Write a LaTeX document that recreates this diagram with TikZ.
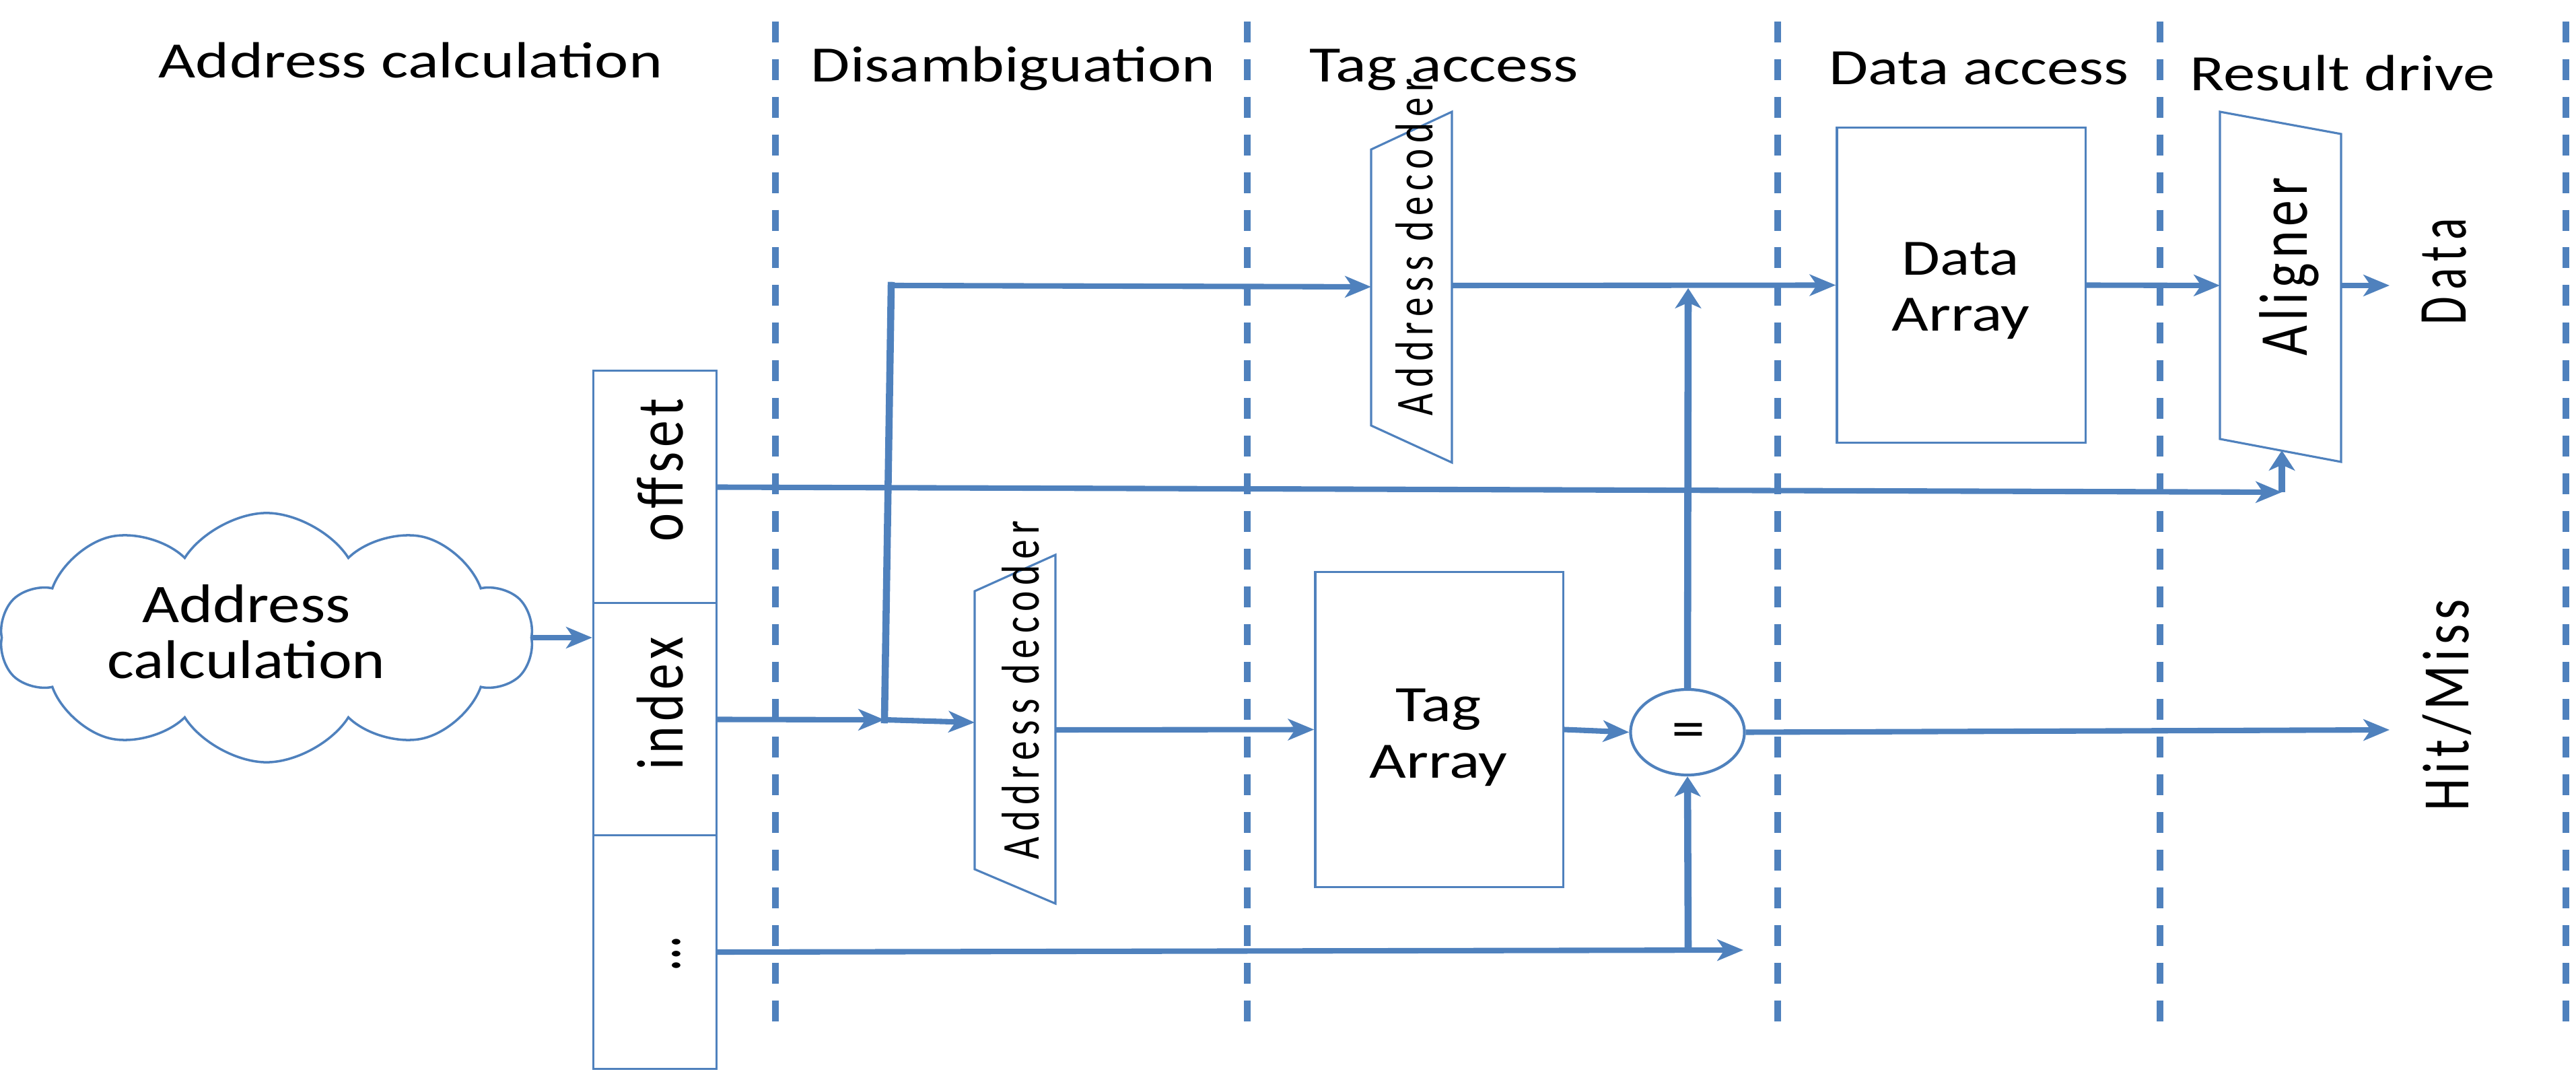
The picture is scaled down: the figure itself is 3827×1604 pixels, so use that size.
\documentclass[tikz,border=0pt]{standalone}
\usepackage{fontspec}
\setmainfont{Carlito}
\newfontfamily\lsfont[LetterSpace=15]{Carlito}
\newfontfamily\lsfontb[LetterSpace=9]{Carlito}
\usepackage{graphicx}
\usetikzlibrary{arrows.meta,shapes.symbols,shapes.geometric}
\definecolor{ob}{HTML}{4F81BD}
\newcommand\fitx[3]{\resizebox{#1cm}{\height}{\fontsize{#2}{#2}\selectfont #3}}
\newcommand\fitl[3]{\resizebox{#1cm}{\height}{\fontsize{#2}{#2}\lsfont #3}}
\newcommand\fitm[3]{\resizebox{#1cm}{\height}{\fontsize{#2}{#2}\lsfontb #3}}
\tikzset{
  conn/.style={draw=ob, line width=2.3pt, -{Stealth[length=11pt,width=9pt,inset=3pt]}},
  connv/.style={draw=ob, line width=3pt, -{Stealth[length=8.5pt,width=11pt,inset=2.4pt]}},
  wirev/.style={draw=ob, line width=3pt, line cap=rect},
  sepline/.style={draw=ob, line width=2.6pt, dash pattern=on 8.8pt off 7.1pt},
  blk/.style={draw=ob, line width=0.9pt, fill=white, inner sep=0},
  lbl/.style={inner sep=0, anchor=base, text=black},
  rlbl/.style={inner sep=0, anchor=base, text=black, rotate=90},
}
\begin{document}
\begin{tikzpicture}[x=0.01cm, y=-0.01cm]
\useasboundingbox (0,0) rectangle (3827,1604);

% stage separators
\foreach \xx in {1152,1853,2641,3209,3812}
  \draw[sepline] (\xx,32) -- (\xx,1533);

% stage titles
\node[lbl] (t1) at (610,116) {\fitx{7.48}{21.5}{Address calculation}};
\node[lbl] (t2) at (1505,122) {\fitx{6.00}{21.5}{Disambiguation}};
\node[lbl] (t3) at (2145,122) {\fitx{3.99}{21.5}{Tag access}};
\node[lbl] (t4) at (2940,126) {\fitx{4.45}{21.5}{Data access}};
\node[lbl] (t5) at (3480,135) {\fitx{4.52}{21.5}{Result drive}};

% coordinates for connector ends
\coordinate (jn) at (1314,1069);
\coordinate (jt) at (1324,424);
\coordinate (dtin) at (2037,426);
\coordinate (dtout) at (2157,424);
\coordinate (dlin) at (1448,1073);
\coordinate (dlout) at (1568,1084);
\coordinate (alin) at (3298,424);
\coordinate (alout) at (3478,424);
\coordinate (albot) at (3390,669);
\coordinate (dout) at (3550,424);
\coordinate (hm) at (3550,1084);
\coordinate (db) at (2590,1411);
\coordinate (dj) at (2508,1412);
\coordinate (oc) at (3390,731);
\coordinate (up) at (2508,428);

% boxes
\node[cloud, draw=ob, line width=1pt, fill=white, cloud puffs=10, cloud puff arc=115, aspect=2.2,
      minimum width=7.9cm, minimum height=3.7cm, inner sep=0] (cloud) at (396,947) {};
\node[blk, minimum width=1.83cm, minimum height=3.45cm] (off) at (973,723.5) {};
\node[blk, minimum width=1.83cm, minimum height=3.45cm] (idx) at (973,1068.5) {};
\node[blk, minimum width=1.83cm, minimum height=3.46cm] (dots) at (973,1414) {};
\node[blk, minimum width=3.68cm, minimum height=4.67cm] (tag) at (2138,1083.5) {};
\node[blk, minimum width=3.69cm, minimum height=4.67cm] (data) at (2913.5,423.5) {};
\node[blk, ellipse, line width=1.2pt, minimum width=1.69cm, minimum height=1.27cm] (eq) at (2507,1087.5) {};

% connectors
\draw[conn] (cloud.east) -- (cloud.east -| idx.west);
\draw[conn] (idx.east) -- (jn);
\draw[wirev] (jn) -- (jt);
\draw[conn, line cap=rect] (jt) -- (dtin);
\draw[conn] (jn) -- (dlin);
\draw[conn] (dlout) -- (tag.west);
\draw[conn] (tag.east) -- (eq.west);
\draw[conn] (eq.east) -- (hm);
\draw[conn] (dots.east) -- (db);
\draw[connv] (dj) -- (eq.south);
\draw[connv] (eq.north) -- (up);
\draw[conn] (dtout) -- (data.west);
\draw[conn] (data.east) -- (alin);
\draw[conn] (alout) -- (dout);
\draw[conn] (off.east) -- (oc);
\draw[connv] (oc) -- (albot);

% decoders and aligner
\draw[blk] (1448,878) -- (1568,824) -- (1568,1342) -- (1448,1291) -- cycle;
\draw[blk] (2037,222) -- (2157,166) -- (2157,687) -- (2037,632) -- cycle;
\draw[blk] (3298,166) -- (3478,199) -- (3478,686) -- (3298,652) -- cycle;

% texts
\node[lbl] (c1) at (366,925) {\fitx{3.09}{23}{Address}};
\node[lbl] (c2) at (366,1008) {\fitx{4.13}{23}{calculation}};
\node[rlbl] (toff) at (1014,698) {\fitm{2.13}{28}{offset}};
\node[rlbl] (tidx) at (1014,1045) {\fitm{1.97}{28}{index}};
\node[rlbl] (tdots) at (1010,1416) {\fitx{0.48}{30}{…}};
\node[rlbl] (tdl) at (1543,1025) {\fitl{5.03}{22.5}{Address decoder}};
\node[rlbl] (tdt) at (2128,367) {\fitl{5.00}{22.5}{Address decoder}};
\node[lbl] (tg1) at (2137,1071) {\fitx{1.27}{21.5}{Tag}};
\node[lbl] (tg2) at (2137,1155) {\fitx{2.05}{21.5}{Array}};
\node[lbl] (da1) at (2913,409) {\fitx{1.74}{21.5}{Data}};
\node[lbl] (da2) at (2913,492) {\fitx{2.05}{21.5}{Array}};
\node[inner sep=0] (teq) at (2508,1092) {\fitx{0.50}{24}{=}};
\node[rlbl] (tal) at (3427,396) {\fitm{2.65}{29}{Aligner}};
\node[rlbl] (tdata) at (3663,403) {\fitl{1.58}{29}{Data}};
\node[rlbl] (thm) at (3667,1047) {\fitm{3.14}{28}{Hit/Miss}};
\end{tikzpicture}
\end{document}
